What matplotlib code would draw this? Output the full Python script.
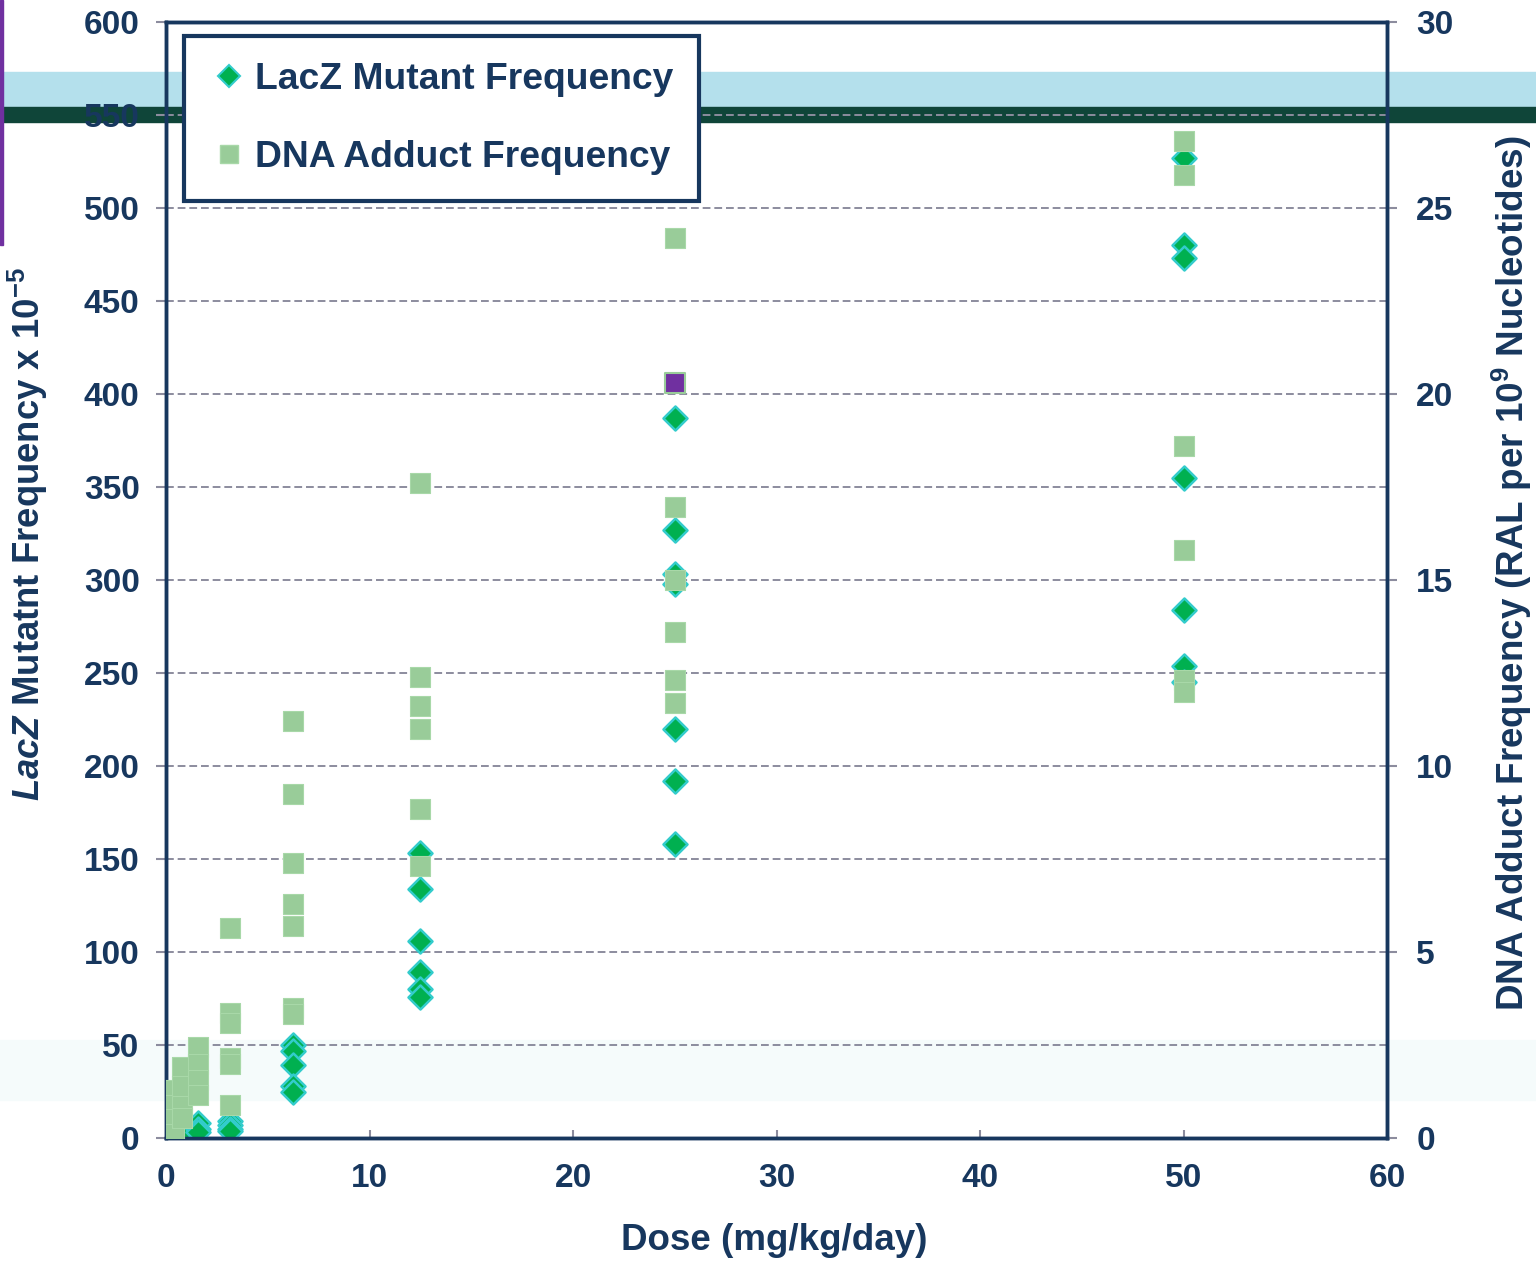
import matplotlib
matplotlib.use("Agg")
import matplotlib.pyplot as plt
from matplotlib.patches import Rectangle
from matplotlib.lines import Line2D

plt.rcParams['font.family'] = ['Liberation Sans', 'DejaVu Sans']
plt.rcParams['mathtext.fontset'] = 'custom'
plt.rcParams['mathtext.rm'] = 'Liberation Sans:bold'
plt.rcParams['mathtext.it'] = 'Liberation Sans:bold:italic'
plt.rcParams['mathtext.bf'] = 'Liberation Sans:bold'

NAVY = '#17375E'
GRID = '#8C8C9E'

# LacZ mutant frequency (x 10^-5), left axis
lacz_dose = [0, 0, 0, 0, 0.39, 0.39, 0.39, 0.78, 0.78, 0.78,
             1.56, 1.56, 1.56, 3.125, 3.125, 3.125, 3.125,
             6.25, 6.25, 6.25, 6.25, 6.25,
             12.5, 12.5, 12.5, 12.5, 12.5, 12.5,
             25, 25, 25, 25, 25, 25, 25,
             50, 50, 50, 50, 50, 50, 50]
lacz_mf = [2, 4, 1, 3, 3, 5, 2, 4, 6, 3,
           8, 5, 3, 9, 7, 5, 4,
           50, 47, 39, 28, 25,
           153, 134, 106, 89, 80, 76,
           387, 327, 303, 298, 220, 192, 158,
           527, 480, 473, 355, 284, 254, 245]

# DNA adduct frequency (RAL per 10^9 nucleotides), right axis
adduct_dose = [0, 0, 0, 0, 0.2, 0.2, 0.39, 0.39, 0.39, 0.39,
               0.78, 0.78, 0.78, 0.78, 1.56, 1.56, 1.56, 1.56,
               3.125, 3.125, 3.125, 3.125, 3.125, 3.125,
               6.25, 6.25, 6.25, 6.25, 6.25, 6.25, 6.25,
               12.5, 12.5, 12.5, 12.5, 12.5, 12.5,
               25, 25, 25, 25, 25, 25,
               50, 50, 50, 50, 50, 50]
adduct_raf = [0.2, 0.1, 0.3, 0.05, 0.6, 0.4, 1.3, 0.9, 0.5, 0.1,
              1.9, 1.4, 0.85, 0.55, 2.45, 2.0, 1.56, 1.16,
              5.65, 3.36, 3.1, 2.15, 2.0, 0.9,
              11.2, 9.25, 7.4, 6.3, 5.7, 3.5, 3.33,
              17.6, 12.4, 11.6, 11.0, 8.84, 7.3,
              24.2, 16.96, 15.0, 13.6, 12.3, 11.7,
              26.8, 25.9, 18.6, 15.8, 12.3, 12.0]

# highlighted adduct point
hl_dose = [25]
hl_raf = [20.3]

W, H = 1536, 1261
fig = plt.figure(figsize=(W / 100, H / 100), dpi=100, facecolor='white')

# slide decorations behind the chart
fig.add_artist(Rectangle((0, 1 - 107 / H), 1, 35 / H, transform=fig.transFigure,
                         color='#B4E0EC', zorder=-2))
fig.add_artist(Rectangle((0, 1 - 122 / H), 1, 15 / H, transform=fig.transFigure,
                         color='#0F4539', zorder=-2))
fig.add_artist(Rectangle((0, 1 - 1100 / H), 1, 60 / H, transform=fig.transFigure,
                         color='#F5FBFB', zorder=-3))
fig.add_artist(Rectangle((0, 1 - 245 / H), 3 / W, 245 / H, transform=fig.transFigure,
                         color='#7030A0', zorder=-2))

ax = fig.add_axes([166 / W, (H - 1138) / H, (1387 - 166) / W, (1138 - 22) / H])
ax.patch.set_alpha(0)
ax2 = ax.twinx()
ax2.patch.set_alpha(0)

ax.scatter(lacz_dose, lacz_mf, marker='D', s=150, c='#00B050',
           edgecolors='#33CCCC', linewidths=1.8, zorder=3)
ax2.scatter(adduct_dose, adduct_raf, marker='s', s=200, c='#99CC99',
            edgecolors='#A8D8A8', linewidths=0.8, zorder=3)
ax2.scatter(hl_dose, hl_raf, marker='s', s=200, c='#7030A0',
            edgecolors='#99CC99', linewidths=1.5, zorder=4)

ax.set_xlim(0, 60)
ax.set_ylim(0, 600)
ax2.set_ylim(0, 30)
ax.set_xticks(range(0, 61, 10))
ax.set_yticks(range(0, 601, 50))
ax2.set_yticks(range(0, 31, 5))

ax.yaxis.grid(True, linestyle=(0, (4, 2)), color=GRID, linewidth=1.4)
ax.set_axisbelow(True)

for a in (ax, ax2):
    for sp in a.spines.values():
        sp.set_color(NAVY)
        sp.set_linewidth(2.5)
ax.tick_params(axis='y', direction='out', length=7, width=1.5, color=GRID,
               labelsize=24, labelcolor=NAVY, pad=12)
ax2.tick_params(axis='y', direction='out', length=7, width=1.5, color=GRID,
                labelsize=24, labelcolor=NAVY, pad=14)
ax.tick_params(axis='x', direction='in', length=6, width=1.5, color=GRID,
               labelsize=24, labelcolor=NAVY, pad=18)
for lab in ax.get_xticklabels() + ax.get_yticklabels() + ax2.get_yticklabels():
    lab.set_fontweight('bold')

fig.text(774 / W, 1 - 1240 / H, 'Dose (mg/kg/day)', fontsize=26.5, fontweight='bold',
         color=NAVY, ha='center', va='center')
fig.text(28 / W, 1 - 534 / H, r'$\mathit{LacZ}$ Mutatnt Frequency x 10$^{-5}$',
         rotation=90, fontsize=26.3, fontweight='bold', color=NAVY, ha='center', va='center')
fig.text(1512 / W, 1 - 573 / H, r'DNA Adduct Frequency (RAL per 10$^{9}$ Nucleotides)',
         rotation=90, fontsize=26.5, fontweight='bold', color=NAVY, ha='center', va='center')

handles = [
    Line2D([], [], marker='D', linestyle='none', markersize=11, markerfacecolor='#00B050',
           markeredgecolor='#33CCCC', markeredgewidth=1.5),
    Line2D([], [], marker='s', linestyle='none', markersize=13, markerfacecolor='#99CC99',
           markeredgecolor='#A8D8A8'),
]
leg = ax2.legend(handles, ['LacZ Mutant Frequency', 'DNA Adduct Frequency'],
                 loc='upper left', bbox_to_anchor=(184 / W, 1 - 36 / H),
                 bbox_transform=fig.transFigure, fancybox=False, framealpha=1,
                 edgecolor=NAVY, handlelength=1.0, handletextpad=0.2,
                 labelspacing=1.15, borderpad=0.7, borderaxespad=0,
                 prop={'size': 26.8, 'weight': 'bold'})
leg.get_frame().set_linewidth(3)
for t in leg.get_texts():
    t.set_color(NAVY)
leg.set_zorder(10)

fig.savefig('out.png', dpi=100, facecolor='white')
